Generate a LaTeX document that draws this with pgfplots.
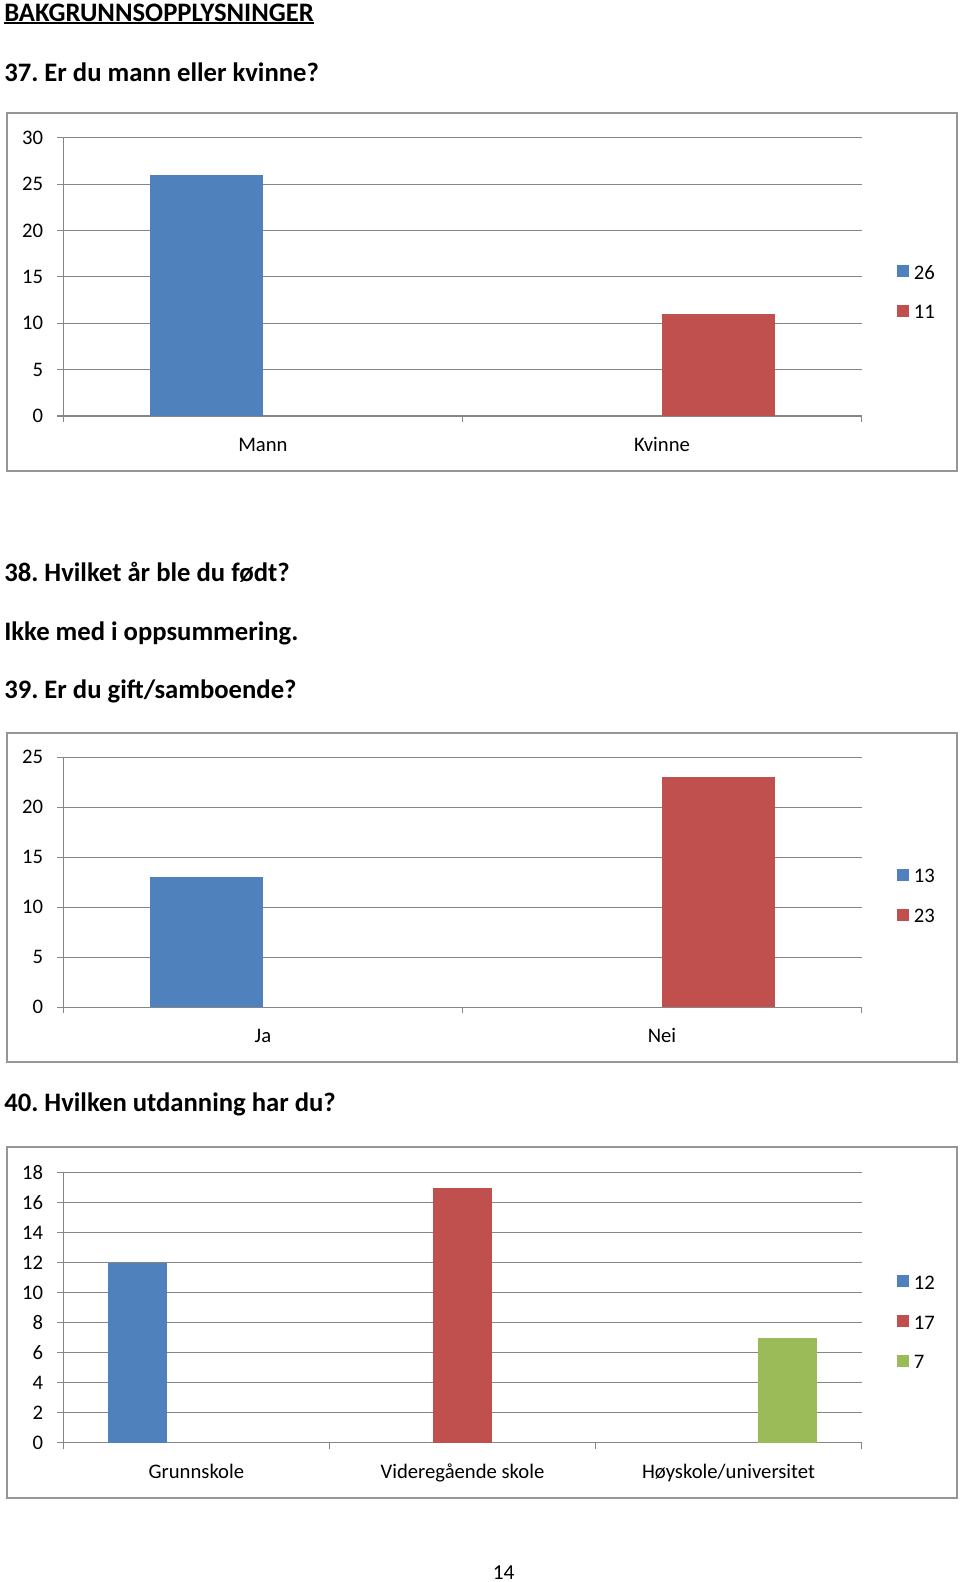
\documentclass[border=0pt]{standalone}
\usepackage{fontspec}
\setmainfont{Carlito}
\usepackage{pgfplots}
\pgfplotsset{compat=1.18}
\frenchspacing

\definecolor{xlblue}{RGB}{79,129,189}
\definecolor{xlred}{RGB}{192,80,77}
\definecolor{xlgreen}{RGB}{155,187,89}
\definecolor{gridgray}{RGB}{134,134,134}
\definecolor{boxgray}{RGB}{150,150,150}

\newcommand{\tickfont}{\fontsize{15.5}{18}\selectfont}
\newcommand{\headfont}{\bfseries\fontsize{20}{24}\selectfont}

% common look of the three Excel-style charts
\pgfplotsset{
  xlchart/.style={
    scale only axis,
    width=598.7pt,
    axis lines*=left,
    axis line style={gridgray, line width=0.9pt},
    ymin=0,
    ymajorgrids,
    grid style={gridgray, line width=0.9pt},
    tick align=outside,
    major tick length=4.5pt,
    minor tick length=4.5pt,
    y tick style={gridgray, line width=0.9pt},
    major x tick style={draw=none},
    minor x tick style={gridgray, line width=0.9pt},
    ticklabel style={font=\tickfont},
    /pgf/number format/assume math mode=true,
    yticklabel style={anchor=east, inner sep=0pt, xshift=-10.5pt},
    xticklabel style={anchor=base, inner sep=0pt, yshift=-22pt},
    ybar,
    legend image code/.code={\fill[##1] (0pt,-3pt) rectangle (9pt,6pt);},
    legend cell align=left,
    legend style={draw=none, fill=none, font=\tickfont, inner sep=0pt,
      at={(1.0444,0.442)}, anchor=west, row sep=11.5pt,
      nodes={inner sep=3.5pt}},
  },
}

\begin{document}
\begin{tikzpicture}
\begin{scope}[x=0.75pt, y=-0.75pt]
  \path[use as bounding box, fill=white] (0,0) rectangle (960,1582);

  \node[anchor=base west, inner sep=0pt, font=\headfont] (t) at (4,21) {BAKGRUNNSOPPLYSNINGER};
  \draw[line width=1.6pt] ([yshift=-1.7pt]t.base west) -- ([yshift=-1.7pt]t.base east);
  \node[anchor=base west, inner sep=0pt, font=\headfont] at (4,81.5) {37. Er du mann eller kvinne?};
  \node[anchor=base west, inner sep=0pt, font=\headfont] at (4,581.7) {38. Hvilket år ble du født?};
  \node[anchor=base west, inner sep=0pt, font=\headfont] at (4,640.7) {Ikke med i oppsummering.};
  \node[anchor=base west, inner sep=0pt, font=\headfont] at (4,698.3) {39. Er du gift/samboende?};
  \node[anchor=base west, inner sep=0pt, font=\headfont] at (4,1111.7) {40. Hvilken utdanning har du?};
  \node[anchor=base, inner sep=0pt, font=\fontsize{16}{19}\selectfont] at (503.7,1579.3) {14};

  \draw[boxgray, line width=1.5pt] (7,112.7) rectangle (957,470.7);
  \draw[boxgray, line width=1.5pt] (7,732.7) rectangle (957,1062);
  \draw[boxgray, line width=1.5pt] (7,1147.3) rectangle (957,1498.3);
\end{scope}

% 37. Er du mann eller kvinne?
\begin{axis}[xlchart,
  at={(47.5pt,-312pt)}, anchor=south west,
  height=208.7pt,
  xmin=-0.5, xmax=1.5, ymax=30,
  ytick={0,5,...,30},
  xtick={0,1}, xticklabels={Mann,Kvinne},
  minor xtick={-0.5,0.5,1.5},
  bar width=85pt,
]
\addplot[fill=xlblue, draw=none, bar shift=-42.5pt] coordinates {(0,26)};
\addplot[fill=xlred, draw=none, bar shift=42.5pt] coordinates {(1,11)};
\legend{26,11}
\end{axis}

% 39. Er du gift/samboende?
\begin{axis}[xlchart,
  at={(47.5pt,-755.5pt)}, anchor=south west,
  height=187.5pt,
  xmin=-0.5, xmax=1.5, ymax=25,
  ytick={0,5,...,25},
  xtick={0,1}, xticklabels={Ja,Nei},
  minor xtick={-0.5,0.5,1.5},
  bar width=85pt,
]
\addplot[fill=xlblue, draw=none, bar shift=-42.5pt] coordinates {(0,13)};
\addplot[fill=xlred, draw=none, bar shift=42.5pt] coordinates {(1,23)};
\legend{13,23}
\end{axis}

% 40. Hvilken utdanning har du?
\begin{axis}[xlchart,
  at={(47.5pt,-1082pt)}, anchor=south west,
  height=202.5pt,
  xmin=-0.5, xmax=2.5, ymax=18,
  ytick={0,2,...,18},
  xtick={0,1,2}, xticklabels={Grunnskole,Videregående skole,Høyskole/universitet},
  minor xtick={-0.5,0.5,1.5,2.5},
  bar width=44pt,
]
\addplot[fill=xlblue, draw=none, bar shift=-44pt] coordinates {(0,12)};
\addplot[fill=xlred, draw=none, bar shift=0pt] coordinates {(1,17)};
\addplot[fill=xlgreen, draw=none, bar shift=44pt] coordinates {(2,7)};
\legend{12,17,7}
\end{axis}
\end{tikzpicture}
\end{document}
